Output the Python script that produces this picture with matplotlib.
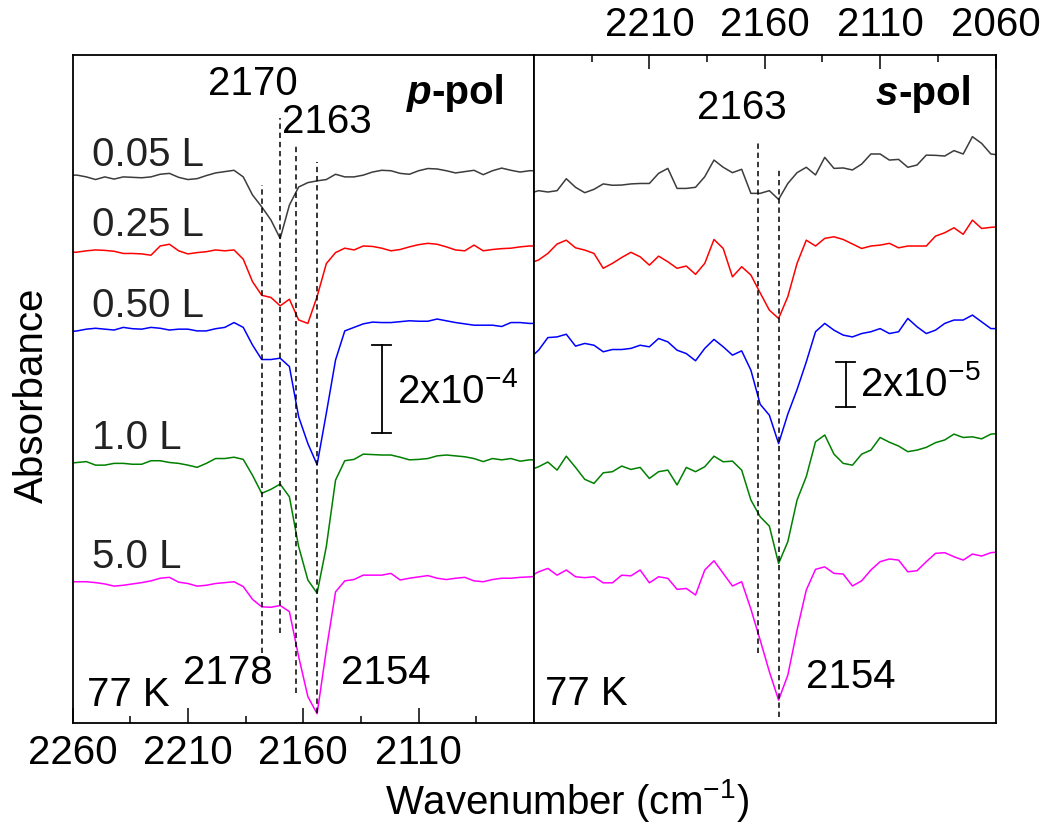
import matplotlib
matplotlib.use('Agg')
import matplotlib.pyplot as plt
from matplotlib.ticker import FixedLocator

plt.rcParams['font.family'] = ['Liberation Sans', 'DejaVu Sans']
plt.rcParams['mathtext.default'] = 'regular'

# wavenumber grid (cm-1), shared by all spectra
wn = [2262, 2258, 2254, 2250, 2246, 2242, 2238, 2234, 2230, 2226,
      2222, 2218, 2214, 2210, 2206, 2202, 2198, 2194, 2190, 2186,
      2182, 2178, 2174, 2170, 2166, 2162, 2158, 2154, 2150, 2146,
      2142, 2138, 2134, 2130, 2126, 2122, 2118, 2114, 2110, 2106,
      2102, 2098, 2094, 2090, 2086, 2082, 2078, 2074, 2070, 2066,
      2062, 2058]

doses = ['0.05 L', '0.25 L', '0.50 L', '1.0 L', '5.0 L']
colors = ['#3c3c3c', '#ff0000', '#0000ff', '#008000', '#ff00ff']

# p-pol absorbance, units of 1e-5
p_005 = [0.0, 0.0, -0.4, -1.0, -0.4, -0.9, -0.4, -0.5, -0.6, -0.4,
         0.2, 0.4, -0.5, -1.0, -0.8, -0.1, 0.5, 0.8, 1.1, -0.4,
         -4.5, -7.2, -10.2, -14.4, -6.8, -2.7, -1.7, -1.3, -1.0, 0.2,
         -0.4, -0.4, 0.0, 0.7, 1.1, 1.0, 0.4, 0.2, 1.0, 1.5,
         1.4, 1.0, 0.5, 0.8, 1.1, 0.1, 1.0, 1.6, 1.1, 0.7,
         1.0, 1.0]
p_025 = [-0.2, -0.1, 0.2, 0.4, 0.3, 0.1, -0.4, -0.4, -0.5, -0.8,
         1.3, 1.7, 0.2, -0.5, -0.2, 0.0, 0.4, 0.2, 0.4, -1.7,
         -6.8, -9.9, -10.4, -12.3, -10.8, -15.5, -16.3, -10.2, -2.7, -0.2,
         0.8, 0.4, 1.3, 1.2, 0.8, 0.2, 0.5, 1.1, 1.6, 1.9,
         1.7, 1.1, 0.4, 0.2, 1.5, 0.2, 0.5, 0.7, 0.8, 1.1,
         1.3, 1.3]
p_050 = [-0.4, -0.2, 0.2, 0.4, 0.2, 0.0, 0.6, 0.3, 0.2, 0.6,
         0.4, 0.0, 0.2, 0.2, -0.2, -0.2, 0.3, 0.6, 1.7, 0.6,
         -3.4, -6.7, -6.7, -6.4, -8.3, -19.7, -25.8, -30.6, -18.9, -6.8,
         -0.2, 0.6, 1.4, 1.8, 1.7, 1.7, 1.9, 2.1, 2.0, 2.0,
         2.5, 2.1, 1.7, 1.4, 1.1, 1.1, 1.1, 0.8, 1.7, 1.7,
         1.5, 1.5]
p_10 = [0.0, 0.2, 0.4, -0.4, -0.4, 0.0, 0.0, -0.2, -0.2, 0.6,
        0.6, 0.2, 0.0, -0.4, -0.9, 0.0, 1.1, 1.1, 1.4, 0.9,
        -2.7, -6.8, -5.9, -4.7, -7.6, -18.9, -26.5, -29.5, -18.9, -3.8,
        0.6, 0.9, 2.1, 2.0, 1.9, 1.9, 1.4, 0.8, 0.9, 1.1,
        1.7, 1.9, 1.7, 1.5, 1.1, 0.4, 1.1, 0.8, 1.1, 0.5,
        0.8, 0.8]
p_50 = [0.0, 0.0, 0.0, -0.2, -0.5, -1.0, -0.8, -0.5, -0.2, 0.2,
        0.8, 1.0, -0.1, -0.4, -1.0, -0.8, -0.4, -0.2, 0.0, -1.1,
        -4.0, -5.7, -5.8, -5.4, -6.8, -17.0, -26.1, -30.0, -15.5, -2.3,
        0.2, 0.5, 1.5, 1.5, 1.5, 1.9, 0.4, 0.8, 1.1, 1.4,
        0.8, 0.5, 0.8, 1.0, 0.2, 0.0, 0.5, 0.8, 0.8, 1.0,
        1.1, 1.3]

# s-pol absorbance, units of 1e-6
s_005 = [-0.3, 0.9, 0.3, 0.9, 6.2, 2.4, 0.0, 1.5, 3.9, 3.3,
         3.4, 3.9, 4.1, 4.1, 8.6, 10.8, 1.9, 1.9, 2.4, 7.1,
         14.5, 11.3, 8.9, 10.4, -0.3, -0.3, 0.9, -3.0, 4.1, 8.9,
         11.3, 7.9, 15.7, 10.8, 11.0, 10.1, 12.7, 17.2, 17.2, 14.5,
         14.8, 11.3, 12.3, 16.7, 16.6, 16.3, 18.7, 17.2, 24.9, 21.9,
         17.2, 16.7]
s_025 = [-5.9, -4.4, -1.5, 2.7, 4.4, 1.0, 0.0, -1.5, -8.1, -5.9,
         -3.3, -1.0, -3.0, -6.7, -2.7, -5.2, -8.1, -7.1, -10.8, -5.9,
         4.7, 0.7, -11.9, -7.4, -11.1, -19.0, -26.7, -30.4, -20.7, -5.9,
         4.4, 1.8, 5.2, 5.9, 4.7, 2.7, 0.7, 1.8, 2.2, 3.0,
         1.0, 1.8, 1.8, 1.8, 6.2, 7.7, 9.9, 7.0, 13.3, 9.6,
         10.1, 10.4]
s_050 = [-5.2, -1.5, 4.1, 4.4, 5.6, 0.3, 1.5, 0.7, -2.2, -1.2,
         -1.2, -0.7, 0.7, 0.0, 3.7, 2.2, -1.5, -3.0, -6.2, -0.7,
         3.3, 0.0, -3.7, -1.8, -10.4, -25.5, -30.4, -43.0, -29.9, -19.0,
         -6.7, 6.7, 10.4, 7.4, 5.2, 4.4, 5.9, 6.7, 8.1, 5.9,
         6.7, 12.6, 8.9, 5.9, 7.4, 10.4, 11.9, 11.9, 14.1, 11.1,
         8.1, 8.1]
s_10 = [-1.5, 0.0, 2.1, -1.5, 4.7, -0.3, -5.6, -7.4, -2.7, -2.2,
        0.3, -1.2, -0.3, -5.2, -2.2, -1.5, -8.1, -0.3, -2.2, 0.0,
        4.7, 2.2, 2.5, -1.5, -14.8, -22.2, -26.4, -43.0, -33.3, -14.8,
        -4.4, 11.1, 14.1, 5.6, 1.5, 0.7, 5.6, 7.4, 13.0, 10.9,
        9.2, 6.7, 7.4, 8.6, 10.7, 11.9, 14.5, 13.0, 13.3, 12.4,
        14.5, 14.8]
s_50 = [0.0, 2.2, 3.7, 0.7, 3.0, 0.0, -0.4, 0.0, -2.7, -2.7,
        0.7, 0.4, 3.0, -2.7, 0.0, -0.7, -5.6, -5.2, -8.1, 3.0,
        7.1, 1.5, -4.1, -2.2, -14.4, -28.1, -42.2, -54.8, -43.7, -23.7,
        -5.9, 3.3, 4.4, 1.5, 1.2, -4.1, -1.8, 3.0, 6.7, 7.9,
        7.4, 2.2, 2.7, 6.7, 10.4, 10.7, 8.9, 7.4, 10.1, 9.2,
        10.7, 11.1]

p_spectra = [p_005, p_025, p_050, p_10, p_50]
s_spectra = [s_005, s_025, s_050, s_10, s_50]
p_offsets = [124.5, 107.1, 89.3, 59.0, 32.1]
s_offsets = [235.7, 210.2, 167.2, 113.9, 65.0]

p_peaks = [2178, 2170, 2163, 2154]
s_peaks = [2163, 2154]

fs = 29
fig = plt.figure(figsize=(10.42, 8.35), dpi=100)
W, H = 1042, 835
ax1 = fig.add_axes([72.5 / W, 112 / H, 461.5 / W, 668 / H])
ax2 = fig.add_axes([534 / W, 112 / H, 461.5 / W, 668 / H])

for ax, spectra, offs in [(ax1, p_spectra, p_offsets), (ax2, s_spectra, s_offsets)]:
    for y, off, c in zip(spectra, offs, colors):
        ax.plot(wn, [v + off for v in y], color=c, lw=1.1)
    ax.set_xlim(2260, 2060)
    for s in ax.spines.values():
        s.set_linewidth(1.3)
    ax.set_yticks([])

ax1.set_ylim(0, 151.8)
ax2.set_ylim(0, 296.9)

# dashed peak markers
dash = (0, (3.5, 2.5))
p_dash_y = [(15.9, 122.3), (20.5, 137.5), (6.8, 131.4), (2.3, 127.5)]
for w, (y0, y1) in zip(p_peaks, p_dash_y):
    ax1.plot([w, w], [y0, y1], color='black', lw=1.1, linestyle=dash)
s_dash_y = [(31.1, 259.1), (2.7, 246.2)]
for w, (y0, y1) in zip(s_peaks, s_dash_y):
    ax2.plot([w, w], [y0, y1], color='black', lw=1.1, linestyle=dash)

# ticks
ax1.xaxis.set_major_locator(FixedLocator([2260, 2210, 2160, 2110]))
ax1.xaxis.set_minor_locator(FixedLocator([2235, 2185, 2135, 2085]))
ax1.tick_params(axis='x', which='both', direction='in', top=False, bottom=True,
                labelsize=fs, pad=8, width=1.1)
ax1.tick_params(axis='x', which='major', length=11)
ax1.tick_params(axis='x', which='minor', length=5)

ax2.xaxis.set_major_locator(FixedLocator([2210, 2160, 2110, 2060]))
ax2.xaxis.set_minor_locator(FixedLocator([2235, 2185, 2135, 2085]))
ax2.tick_params(axis='x', which='both', direction='in', top=True, bottom=False,
                labeltop=True, labelbottom=False, labelsize=fs, pad=8, width=1.1)
ax2.tick_params(axis='x', which='major', length=10)
ax2.tick_params(axis='x', which='minor', length=5)

# dose labels
dose_y = [0.850, 0.746, 0.624, 0.427, 0.249]
for lab, fy in zip(doses, dose_y):
    ax1.text(0.042, fy, lab, transform=ax1.transAxes, fontsize=fs,
             ha='left', va='center', color='#222222')

# peak labels, left
ax1.text(0.391, 0.957, '2170', transform=ax1.transAxes, fontsize=fs, ha='center', va='center')
ax1.text(0.551, 0.900, '2163', transform=ax1.transAxes, fontsize=fs, ha='center', va='center')
ax1.text(0.337, 0.075, '2178', transform=ax1.transAxes, fontsize=fs, ha='center', va='center')
ax1.text(0.679, 0.075, '2154', transform=ax1.transAxes, fontsize=fs, ha='center', va='center')
ax1.text(0.031, 0.042, '77 K', transform=ax1.transAxes, fontsize=fs, ha='left', va='center')

# peak labels, right
ax2.text(0.451, 0.921, '2163', transform=ax2.transAxes, fontsize=fs, ha='center', va='center')
ax2.text(0.687, 0.069, '2154', transform=ax2.transAxes, fontsize=fs, ha='center', va='center')
ax2.text(0.024, 0.043, '77 K', transform=ax2.transAxes, fontsize=fs, ha='left', va='center')

# polarisation labels
for ax, letter, fx, fy in [(ax1, 'p', 0.937, 0.927), (ax2, 's', 0.949, 0.925)]:
    t = ax.text(fx, fy, '-pol', transform=ax.transAxes, fontsize=fs,
                fontweight='bold', ha='right', va='baseline')
    ax.annotate(letter, xy=(0, 0), xycoords=t, fontsize=fs, fontweight='bold',
                fontstyle='italic', ha='right', va='bottom')

# scale bars
for ax, x, y0, y1, dx, lab, fx, fy in [
        (ax1, 2126, 65.9, 85.9, 4, r'2x10$^{-4}$', 0.703, 0.497),
        (ax2, 2125, 140.3, 160.3, 4, r'2x10$^{-5}$', 0.706, 0.506)]:
    ax.plot([x, x], [y0, y1], color='black', lw=1.3)
    ax.plot([x - dx, x + dx], [y0, y0], color='black', lw=1.3)
    ax.plot([x - dx, x + dx], [y1, y1], color='black', lw=1.3)
    ax.text(fx, fy, lab, transform=ax.transAxes, fontsize=fs, ha='left', va='center')

fig.text(32 / W, 1 - 395 / H, 'Absorbance', rotation=90, fontsize=fs,
         ha='center', va='center')
fig.text(567 / W, 1 - 800 / H, r'Wavenumber (cm$^{-1}$)', fontsize=fs,
         ha='center', va='center')

fig.savefig('out.png', dpi=100)
